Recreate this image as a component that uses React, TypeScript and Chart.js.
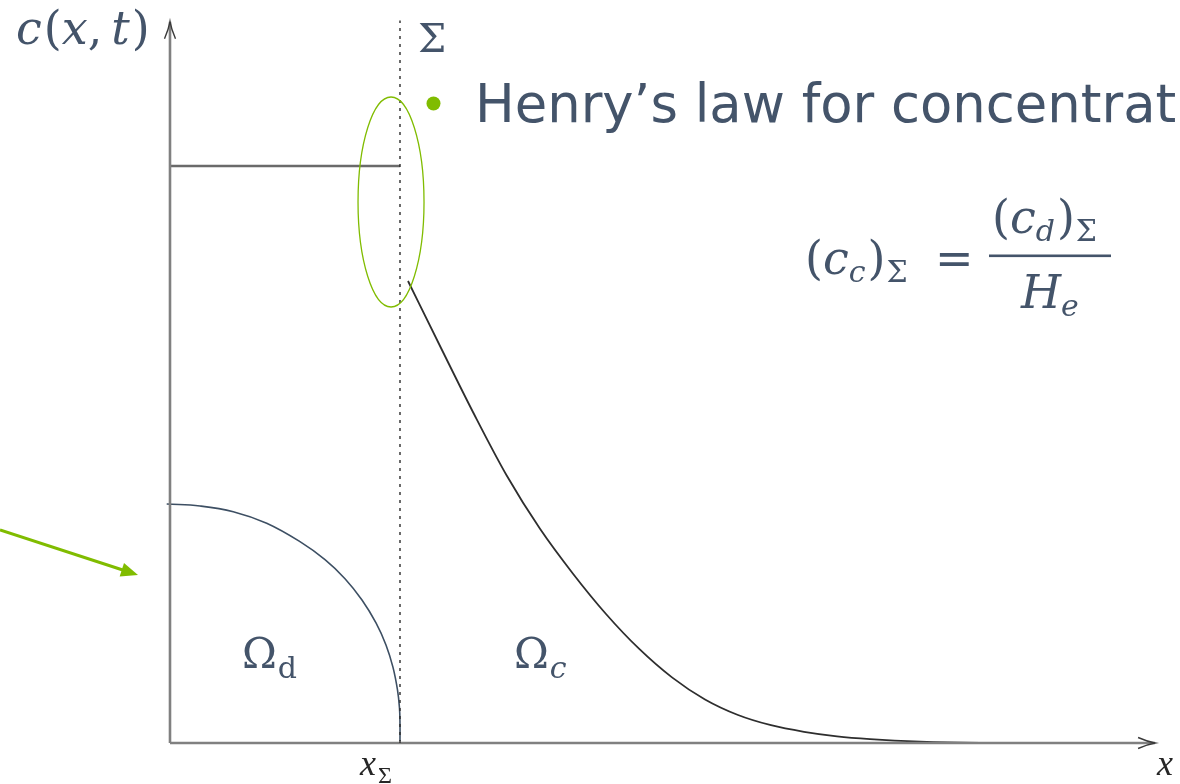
import { useEffect, useRef } from "react";
import { Chart, registerables } from "chart.js";

Chart.register(...registerables);

// Concentration profile c(x,t) across a droplet interface.
// x is measured in units of the interface position x_Σ, c in units of the droplet plateau value.
const plateauX = [0, 1];
const plateauC = [1, 1];

// Continuous-phase profile, starting at the interface value (c_c)_Σ and decaying to zero
const continuousX = [1.0348, 1.1783, 1.3217, 1.4652, 1.6087, 1.7522, 1.8957, 2.0391, 2.1826, 2.3261, 2.4696, 2.613, 2.7565, 2.9, 3.0435, 3.2609, 3.5217, 3.7826, 4.2609];
const continuousC = [0.8007, 0.6846, 0.5702, 0.4627, 0.3712, 0.2934, 0.2236, 0.1634, 0.1137, 0.0754, 0.0485, 0.0308, 0.0194, 0.0116, 0.0068, 0.0024, 0.0003, 0, 0];

// Outline of the droplet Ω_d (quarter section)
const dropletX = [-0.0143, 0.1304, 0.2752, 0.4204, 0.5652, 0.6739, 0.7609, 0.8348, 0.8957, 0.9391, 0.9696, 0.9891, 0.9978, 1.0, 1.0];
const dropletY = [0.4142, 0.4107, 0.4009, 0.3808, 0.3489, 0.3177, 0.2847, 0.2478, 0.208, 0.1698, 0.131, 0.0919, 0.0607, 0.0312, 0.0035];

// Interface Σ and axis extents
const interfaceX = [1, 1];
const interfaceY = [0, 1.252];
const xAxisX = [0, 4.283];
const xAxisY = [0, 0];
const yAxisX = [0, 0];
const yAxisY = [0, 1.25];

const TEXT = "#44546a";
const GREEN = "#80bc00";
const MATH = '"DejaVu Serif"';
const TEX = '"Liberation Serif"';

const pts = (xs: number[], ys: number[]) => xs.map((x, i) => ({ x, y: ys[i] }));

type Run = { t: string; font: string; dy?: number; gap?: number };
function drawRuns(ctx: CanvasRenderingContext2D, x: number, y: number, runs: Run[]) {
  let cx = x;
  for (const r of runs) {
    ctx.font = r.font;
    cx += r.gap ?? 0;
    ctx.fillText(r.t, cx, y + (r.dy ?? 0));
    cx += ctx.measureText(r.t).width;
  }
  return cx;
}

function barb(ctx: CanvasRenderingContext2D, tx: number, ty: number, dx: number, dy: number, len: number, half: number) {
  // open LaTeX-style arrow tip pointing along (dx,dy)
  const px = -dy, py = dx;
  const bx = tx - dx * len, by = ty - dy * len;
  const cx = tx - dx * len * 0.45, cy = ty - dy * len * 0.45;
  ctx.beginPath();
  ctx.moveTo(bx + px * half, by + py * half);
  ctx.quadraticCurveTo(cx + px * half * 0.25, cy + py * half * 0.25, tx, ty);
  ctx.quadraticCurveTo(cx - px * half * 0.25, cy - py * half * 0.25, bx - px * half, by - py * half);
  ctx.stroke();
}

const annotations = {
  id: "annotations",
  afterDatasetsDraw(chart: any) {
    const ctx: CanvasRenderingContext2D = chart.ctx;
    const xs = chart.scales.x;
    const ys = chart.scales.y;
    const X = (v: number) => xs.getPixelForValue(v);
    const Y = (v: number) => ys.getPixelForValue(v);
    ctx.save();

    // axis arrow tips
    ctx.strokeStyle = "#3a3a3a";
    ctx.lineWidth = 1.4;
    barb(ctx, X(yAxisX[1]), Y(yAxisY[1]), 0, -1, 17, 5.5);
    barb(ctx, X(xAxisX[1]), Y(xAxisY[1]), 1, 0, 17, 5.5);

    // highlight ellipse round the interface jump
    ctx.strokeStyle = GREEN;
    ctx.lineWidth = 1.3;
    ctx.beginPath();
    ctx.ellipse(X(0.961), Y(0.9376), 33, 105, 0, 0, Math.PI * 2);
    ctx.stroke();

    // pointer arrow towards the droplet
    const sx = 0, sy = 530, tx = 138, ty = 575;
    const L = Math.hypot(tx - sx, ty - sy);
    const ux = (tx - sx) / L, uy = (ty - sy) / L;
    const head = 17, hw = 7;
    ctx.strokeStyle = GREEN;
    ctx.fillStyle = GREEN;
    ctx.lineWidth = 3;
    ctx.beginPath();
    ctx.moveTo(sx, sy);
    ctx.lineTo(tx - ux * head * 0.8, ty - uy * head * 0.8);
    ctx.stroke();
    ctx.beginPath();
    ctx.moveTo(tx, ty);
    ctx.lineTo(tx - ux * head - uy * hw, ty - uy * head + ux * hw);
    ctx.lineTo(tx - ux * head + uy * hw, ty - uy * head - ux * hw);
    ctx.closePath();
    ctx.fill();

    // bullet + heading
    ctx.beginPath();
    ctx.arc(433.5, 103.5, 7, 0, Math.PI * 2);
    ctx.fill();
    ctx.fillStyle = TEXT;
    ctx.textBaseline = "alphabetic";
    ctx.font = '52.8px "DejaVu Sans"';
    ctx.fillText("Henry\u2019s law for concentration", 475, 122);

    // c(x,t)
    const big = `46px ${MATH}`;
    const bigI = `italic 46px ${MATH}`;
    drawRuns(ctx, 16, 44, [
      { t: "c", font: bigI },
      { t: "(", font: big, gap: 2 },
      { t: "x", font: bigI },
      { t: ",", font: big },
      { t: "t", font: bigI, gap: 9 },
      { t: ")", font: big, gap: 2 },
    ]);

    // Σ label on the interface
    ctx.font = `40px ${MATH}`;
    ctx.fillText("\u03A3", 418, 52);

    // (c_c)_Σ = (c_d)_Σ / H_e
    const sub = `30px ${MATH}`;
    const subI = `italic 30px ${MATH}`;
    drawRuns(ctx, 805, 274, [
      { t: "(", font: big },
      { t: "c", font: bigI },
      { t: "c", font: subI, dy: 8 },
      { t: ")", font: big, gap: 2 },
      { t: "\u03A3", font: sub, dy: 8, gap: 1 },
    ]);
    ctx.font = big;
    ctx.fillText("=", 935, 274);
    ctx.fillRect(989, 254.5, 122, 2.6);
    drawRuns(ctx, 992, 233, [
      { t: "(", font: big },
      { t: "c", font: bigI },
      { t: "d", font: subI, dy: 8 },
      { t: ")", font: big, gap: 2 },
      { t: "\u03A3", font: sub, dy: 8, gap: 1 },
    ]);
    drawRuns(ctx, 1021, 308, [
      { t: "H", font: bigI },
      { t: "e", font: subI, dy: 8 },
    ]);

    // domain labels
    drawRuns(ctx, 242, 668, [
      { t: "\u03A9", font: `42px ${MATH}` },
      { t: "d", font: `30px ${MATH}`, dy: 10, gap: 1 },
    ]);
    drawRuns(ctx, 514, 668, [
      { t: "\u03A9", font: `42px ${MATH}` },
      { t: "c", font: `italic 30px ${MATH}`, dy: 10, gap: 1 },
    ]);

    // axis labels
    ctx.fillStyle = "#262626";
    drawRuns(ctx, X(interfaceX[0]) - 40, 775, [
      { t: "x", font: `italic 36px ${TEX}` },
      { t: "\u03A3", font: `24px ${TEX}`, dy: 8, gap: 2 },
    ]);
    ctx.font = `italic 36px ${TEX}`;
    ctx.fillText("x", X(xAxisX[1]) + 2, 775);

    ctx.restore();
  },
};

export default function App() {
  const ref = useRef<HTMLCanvasElement>(null);

  useEffect(() => {
    if (!ref.current) return;
    const line = (data: any, color: string, width: number, extra: any = {}) => ({
      data,
      borderColor: color,
      borderWidth: width,
      showLine: true,
      pointRadius: 0,
      fill: false,
      clip: false,
      ...extra,
    });
    const chart = new Chart(ref.current, {
      type: "scatter",
      data: {
        datasets: [
          line(pts(interfaceX, interfaceY), "#2b2b2b", 1.4, { borderDash: [3, 5] }),
          line(pts(yAxisX, yAxisY), "#808080", 2.6),
          line(pts(xAxisX, xAxisY), "#808080", 2.6),
          line(pts(plateauX, plateauC), "#6a6a6a", 2.4),
          line(pts(dropletX, dropletY), "#3d4f63", 1.6, { tension: 0.4 }),
          line(pts(continuousX, continuousC), "#2e2e2e", 1.8, { cubicInterpolationMode: "monotone" }),
        ],
      },
      options: {
        animation: false,
        responsive: false,
        layout: { padding: 0 },
        plugins: { legend: { display: false }, tooltip: { enabled: false } },
        events: [],
        scales: {
          x: { type: "linear", min: -0.7391, max: 4.3913, display: false },
          y: { type: "linear", min: -0.07106, max: 1.28769, display: false },
        },
      },
      plugins: [annotations],
    });
    return () => chart.destroy();
  }, []);

  return (
    <div style={{ position: "fixed", left: 0, top: 0, width: 1180, height: 784, background: "#fff" }}>
      <canvas ref={ref} width={1180} height={784} style={{ display: "block" }} />
    </div>
  );
}
